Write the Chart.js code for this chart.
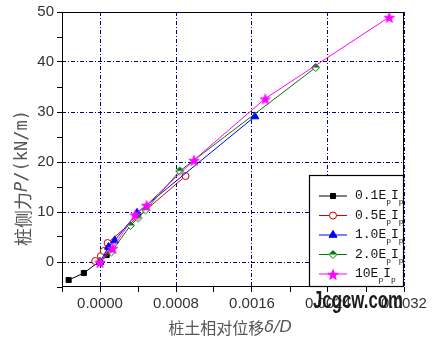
<!DOCTYPE html>
<html>
<head>
<meta charset="utf-8">
<script src="https://cdn.jsdelivr.net/npm/chart.js@4.4.1/dist/chart.umd.min.js"></script>
<style>
    html, body { margin: 0; padding: 0; background: #fff; }
    #wrap { width: 433px; height: 341px; }
</style>
</head>
<body>
<div id="wrap"><canvas id="myChart" width="433" height="341"></canvas></div>
<script>
// datos (desplazamiento relativo δ/D, fuerza lateral P)
const seriesLabels = ['0.1', '0.5', '1.0', '2.0', '10'];

const x01 = [-0.00033, -0.00017, 0.0, 0.00007];
const p01 = [-3.6, -2.2, 0.2, 1.4];

const x05 = [-0.00005, 0.00001, 0.00004, 0.00008, 0.0009];
const p05 = [0.2, 1.2, 2.2, 3.8, 17.2];

const x10 = [0.0, 0.00009, 0.000155, 0.00039, 0.00163];
const p10 = [0.0, 3.0, 4.3, 9.8, 29.1];

const x20 = [0.0, 0.00012, 0.00032, 0.0004, 0.00048, 0.00084, 0.00227];
const p20 = [0.0, 2.0, 7.3, 8.8, 10.4, 18.2, 38.9];

const x100 = [0.0, 0.000133, 0.00037, 0.00049, 0.00099, 0.00174, 0.003045];
const p100 = [0.0, 2.8, 9.5, 11.4, 20.4, 32.7, 49.0];

// ticks
const xTickValues = [-0.0004, 0, 0.0004, 0.0008, 0.0012, 0.0016, 0.002, 0.0024, 0.0028, 0.0032];
const xTickLabels = ['', '0.0000', '', '0.0008', '', '0.0016', '', '0.0024', '', '0.0032'];
const yTickValues = [-5, 0, 5, 10, 15, 20, 25, 30, 35, 40, 45, 50];
const yTickLabels = ['', '0', '', '10', '', '20', '', '30', '', '40', '', '50'];

const toPoints = (xs, ys) => xs.map((x, i) => ({ x: x, y: ys[i] }));

// marcadores especiales (rombo medio relleno y estrella)
function halfDiamond(color, r) {
    const c = document.createElement('canvas');
    const s = Math.ceil(r * 2 + 3);
    c.width = s; c.height = s;
    const g = c.getContext('2d');
    const m = s / 2;
    g.beginPath();
    g.moveTo(m, m - r); g.lineTo(m + r, m); g.lineTo(m, m + r); g.lineTo(m - r, m); g.closePath();
    g.fillStyle = '#fff'; g.fill();
    g.beginPath();
    g.moveTo(m, m - r); g.lineTo(m + r, m); g.lineTo(m - r, m); g.closePath();
    g.fillStyle = color; g.fill();
    g.beginPath();
    g.moveTo(m, m - r); g.lineTo(m + r, m); g.lineTo(m, m + r); g.lineTo(m - r, m); g.closePath();
    g.strokeStyle = color; g.lineWidth = 1; g.stroke();
    return c;
}

function filledStar(color, r) {
    const c = document.createElement('canvas');
    const s = Math.ceil(r * 2 + 3);
    c.width = s; c.height = s;
    const g = c.getContext('2d');
    const m = s / 2;
    g.beginPath();
    for (let i = 0; i < 10; i++) {
        const rr = i % 2 === 0 ? r : r * 0.42;
        const a = -Math.PI / 2 + i * Math.PI / 5;
        const px = m + rr * Math.cos(a), py = m + 1 + rr * Math.sin(a);
        if (i === 0) g.moveTo(px, py); else g.lineTo(px, py);
    }
    g.closePath();
    g.fillStyle = color; g.fill();
    g.strokeStyle = color; g.lineWidth = 0.8; g.stroke();
    return c;
}

const greenMark = halfDiamond('#007a00', 4);
const starMark = filledStar('#ff00ff', 5.5);

const gridColor = '#00008b';

function isMajor(list, labels, v) {
    const i = list.findIndex(t => Math.abs(t - v) < 1e-9);
    return i >= 0 && labels[i] !== '';
}

// titulos de ejes con cursiva
function drawRich(ctx, segs, x, y) {
    let w = 0;
    segs.forEach(s => { ctx.font = s.font; w += ctx.measureText(s.text).width + (s.gap || 0); });
    let cx = x - w / 2;
    segs.forEach(s => {
        ctx.font = s.font;
        ctx.fillText(s.text, cx, y + (s.dy || 0));
        cx += ctx.measureText(s.text).width + (s.gap || 0);
    });
}

const decorPlugin = {
    id: 'decor',
    afterDatasetsDraw(chart) {
        const { ctx, chartArea: a } = chart;
        ctx.save();
        // marco
        ctx.strokeStyle = '#000';
        ctx.lineWidth = 1;
        ctx.strokeRect(Math.round(a.left) + 0.5, Math.round(a.top) + 0.5,
            Math.round(a.right - a.left) - 1, Math.round(a.bottom - a.top) - 1);

        // leyenda
        const bx = Math.round(a.right) - 95, by = Math.round(a.bottom) - 112;
        ctx.fillStyle = '#fff';
        ctx.fillRect(bx, by, Math.round(a.right) - bx, Math.round(a.bottom) - by);
        ctx.strokeStyle = '#000';
        ctx.lineWidth = 1.2;
        ctx.strokeRect(bx + 0.5, by + 0.5, Math.round(a.right) - bx - 1, Math.round(a.bottom) - by - 1);

        chart.data.datasets.forEach((ds, i) => {
            const yy = by + 21 + i * 19.5;
            ctx.strokeStyle = ds.borderColor;
            ctx.lineWidth = 1;
            ctx.beginPath();
            ctx.moveTo(bx + 10, yy); ctx.lineTo(bx + 38, yy);
            ctx.stroke();
            ctx.fillStyle = ds.pointBackgroundColor;
            ctx.strokeStyle = ds.pointBorderColor;
            Chart.helpers.drawPoint(ctx, {
                pointStyle: ds.pointStyle, radius: ds.pointRadius, borderWidth: 1, rotation: 0
            }, bx + 24, yy);
            ctx.fillStyle = '#111';
            ctx.textBaseline = 'middle';
            ctx.textAlign = 'left';
            let tx = bx + 46;
            const main = '13px "Liberation Mono"', sub = '8px "Liberation Mono"';
            [[seriesLabels[i] + 'E', main, 0], ['p', sub, 6], ['I', main, 0], ['p', sub, 6]].forEach(p => {
                ctx.font = p[1];
                ctx.fillText(p[0], tx, yy + p[2]);
                tx += ctx.measureText(p[0]).width;
            });
        });
        ctx.restore();
    },
    afterDraw(chart) {
        const { ctx, chartArea: a } = chart;
        ctx.save();
        ctx.fillStyle = '#555';
        ctx.textBaseline = 'middle';
        ctx.textAlign = 'left';
        drawRich(ctx, [
            { text: '桩土相对位移', font: '16px "Noto Sans CJK SC"' },
            { text: 'δ/D', font: 'italic 16px "DejaVu Sans"' }
        ], (a.left + a.right) / 2 - 3, 328);

        ctx.translate(23, 178);
        ctx.rotate(-Math.PI / 2);
        drawRich(ctx, [
            { text: '桩侧力', font: '18px "Noto Sans CJK SC"' },
            { text: 'P', font: 'italic 17px "DejaVu Sans Mono"' },
            { text: '/(kN/m)', font: '17px "DejaVu Sans Mono"' }
        ], 0, 0);
        ctx.restore();

        // marca de agua de la imagen original
        ctx.save();
        ctx.fillStyle = '#1c1c1c';
        ctx.font = 'bold 23px "Liberation Sans"';
        ctx.textBaseline = 'alphabetic';
        ctx.fillText('Jcgcw.com', 313, 308, 90);
        ctx.restore();
    }
};

const ctxChart = document.getElementById('myChart').getContext('2d');

const chart = new Chart(ctxChart, {
    type: 'scatter',
    data: {
        datasets: [
            {
                label: '0.1EpIp', data: toPoints(x01, p01), showLine: true,
                borderColor: '#000', borderWidth: 1, pointStyle: 'rect', pointRadius: 3.6,
                pointBackgroundColor: '#000', pointBorderColor: '#000', order: 5
            },
            {
                label: '0.5EpIp', data: toPoints(x05, p05), showLine: true,
                borderColor: '#d40000', borderWidth: 1, pointStyle: 'circle', pointRadius: 3.5,
                pointBackgroundColor: '#fff', pointBorderColor: '#d40000', order: 4
            },
            {
                label: '1.0EpIp', data: toPoints(x10, p10), showLine: true,
                borderColor: '#0000ff', borderWidth: 1, pointStyle: 'triangle', pointRadius: 4.6,
                pointBackgroundColor: '#0000ff', pointBorderColor: '#0000ff', order: 3
            },
            {
                label: '2.0EpIp', data: toPoints(x20, p20), showLine: true,
                borderColor: '#007a00', borderWidth: 1, pointStyle: greenMark, pointRadius: 4,
                pointBackgroundColor: '#007a00', pointBorderColor: '#007a00', order: 2
            },
            {
                label: '10EpIp', data: toPoints(x100, p100), showLine: true,
                borderColor: '#ff00ff', borderWidth: 1, pointStyle: starMark, pointRadius: 5,
                pointBackgroundColor: '#ff00ff', pointBorderColor: '#ff00ff', order: 1
            }
        ]
    },
    options: {
        responsive: false,
        animation: false,
        layout: { padding: { left: 0, right: 29, top: 9, bottom: 0 } },
        plugins: {
            legend: { display: false },
            tooltip: { enabled: false }
        },
        scales: {
            x: {
                type: 'linear',
                min: -0.0004,
                max: 0.0032,
                afterBuildTicks: s => { s.ticks = xTickValues.map(v => ({ value: v })); },
                afterFit: s => { s.height = 54; },
                ticks: {
                    autoSkip: false,
                    maxRotation: 0,
                    padding: 3,
                    color: '#333',
                    font: { family: 'Liberation Sans', size: 15 },
                    callback: (v, i) => xTickLabels[i]
                },
                grid: {
                    color: c => (c.tick && isMajor(xTickValues, xTickLabels, c.tick.value)) ? gridColor : 'rgba(0,0,0,0)',
                    lineWidth: 1,
                    tickColor: '#000',
                    tickLength: 5
                },
                border: { display: false, dash: [4, 2, 1, 2] }
            },
            y: {
                type: 'linear',
                min: -5,
                max: 50,
                afterBuildTicks: s => { s.ticks = yTickValues.map(v => ({ value: v })); },
                afterFit: s => { s.width = 62; },
                ticks: {
                    autoSkip: false,
                    padding: 3,
                    color: '#333',
                    font: { family: 'Liberation Sans', size: 15 },
                    callback: (v, i) => yTickLabels[i]
                },
                grid: {
                    color: c => (c.tick && isMajor(yTickValues, yTickLabels, c.tick.value)) ? gridColor : 'rgba(0,0,0,0)',
                    lineWidth: 1,
                    tickColor: '#000',
                    tickLength: 5
                },
                border: { display: false, dash: [4, 2, 1, 2] }
            }
        }
    },
    plugins: [decorPlugin]
});
</script>
</body>
</html>
